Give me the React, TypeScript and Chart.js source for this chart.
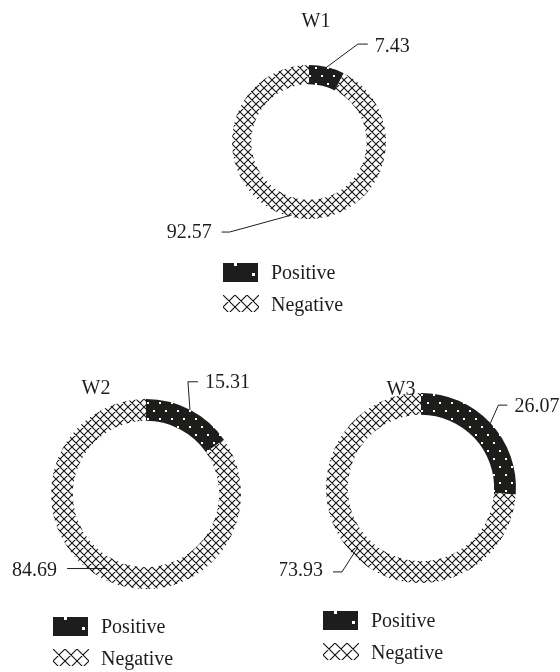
import React, { useEffect, useRef } from "react";
import { Chart, registerables } from "chart.js";

Chart.register(...registerables);

// ---- data ----
const categories = ["Positive", "Negative"];
const chartTitles = ["W1", "W2", "W3"];
const positiveValues = [7.43, 15.31, 26.07];
const negativeValues = [92.57, 84.69, 73.93];

// ---- styling / layout ----
const FONT = "20px 'Liberation Serif'";
const INK = "#1d1d1b";

type LabelCfg = { f: number; ex: number; ey: number; tick: number; by: number };
type Layout = {
  left: number; top: number; width: number; height: number;
  pad: { left: number; right: number; top: number; bottom: number };
  radius: number; cutout: string;
  title: { dx: number; dy: number };
  legend: { dx: number; dy: number };
  labels: LabelCfg[];
};

const layouts: Layout[] = [
  {
    left: 0, top: 0, width: 560, height: 335,
    pad: { left: 58, right: 0, top: 0, bottom: 51 },
    radius: 77, cutout: "75%",
    title: { dx: 7, dy: -115 },
    legend: { dx: -86, dy: 121 },
    labels: [
      { f: 1.0, ex: 31, ey: -23, tick: 10, by: 8 },
      { f: 0.9, ex: -62, ey: 17, tick: -8, by: 6 },
    ],
  },
  {
    left: 0, top: 335, width: 280, height: 337,
    pad: { left: 12, right: 0, top: 0, bottom: 19 },
    radius: 95, cutout: "77%",
    title: { dx: -50, dy: -100 },
    legend: { dx: -93, dy: 123 },
    labels: [
      { f: 1.0, ex: -2, ey: -28, tick: 10, by: 6 },
      { f: 0.5, ex: 0, ey: 0, tick: -40, by: 7 },
    ],
  },
  {
    left: 280, top: 335, width: 280, height: 337,
    pad: { left: 2, right: 0, top: 0, bottom: 31 },
    radius: 95, cutout: "77%",
    title: { dx: -20, dy: -93 },
    legend: { dx: -98, dy: 123 },
    labels: [
      { f: 1.0, ex: 8, ey: -18, tick: 9, by: 7 },
      { f: 0.6, ex: -16, ey: 25, tick: -9, by: 4 },
    ],
  },
];

function makeDots(ctx: CanvasRenderingContext2D): CanvasPattern {
  const c = document.createElement("canvas");
  c.width = 12;
  c.height = 16;
  const g = c.getContext("2d")!;
  g.fillStyle = INK;
  g.fillRect(0, 0, 12, 16);
  g.fillStyle = "#ffffff";
  g.fillRect(3, 3, 2, 2);
  g.fillRect(9, 11, 2, 2);
  return ctx.createPattern(c, "repeat")!;
}

function makeHatch(ctx: CanvasRenderingContext2D, s: number): CanvasPattern {
  const c = document.createElement("canvas");
  c.width = s;
  c.height = s;
  const g = c.getContext("2d")!;
  g.fillStyle = "#ffffff";
  g.fillRect(0, 0, s, s);
  g.strokeStyle = "#111111";
  g.lineWidth = 1.1;
  g.beginPath();
  for (const o of [-s, 0, s]) {
    g.moveTo(o, 0);
    g.lineTo(o + s, s);
    g.moveTo(o + s, 0);
    g.lineTo(o, s);
  }
  g.stroke();
  return ctx.createPattern(c, "repeat")!;
}

function DonutChart({ index }: { index: number }) {
  const ref = useRef<HTMLCanvasElement | null>(null);
  const lay = layouts[index];

  useEffect(() => {
    const canvas = ref.current!;
    const ctx = canvas.getContext("2d")!;
    const dots = makeDots(ctx);
    const hatch = makeHatch(ctx, 8);
    const hatchBig = makeHatch(ctx, 12);
    const values = [positiveValues[index], negativeValues[index]];

    const annotate = {
      id: "annotate" + index,
      afterDraw(chart: any) {
        const c: CanvasRenderingContext2D = chart.ctx;
        const arcs = chart.getDatasetMeta(0).data;
        if (!arcs.length) return;
        const cx = arcs[0].x;
        const cy = arcs[0].y;
        c.save();
        c.font = FONT;
        c.fillStyle = INK;
        c.strokeStyle = INK;
        c.lineWidth = 1;

        // title
        c.textAlign = "center";
        c.textBaseline = "alphabetic";
        c.fillText(chartTitles[index], cx + lay.title.dx, cy + lay.title.dy);

        // value labels with leader lines
        arcs.forEach((arc: any, i: number) => {
          const cfg = lay.labels[i];
          const a = (arc.startAngle + arc.endAngle) / 2;
          const r = arc.innerRadius + cfg.f * (arc.outerRadius - arc.innerRadius);
          const sx = arc.x + r * Math.cos(a);
          const sy = arc.y + r * Math.sin(a);
          const ex = sx + cfg.ex;
          const ey = sy + cfg.ey;
          const tx = ex + cfg.tick;
          c.beginPath();
          c.moveTo(sx, sy);
          c.lineTo(ex, ey);
          c.lineTo(tx, ey);
          c.stroke();
          const right = cfg.tick >= 0;
          c.textAlign = right ? "left" : "right";
          c.fillText(values[i].toFixed(2), tx + (right ? 7 : -10), ey + cfg.by);
        });

        // legend
        const lx = cx + lay.legend.dx;
        const ly = cy + lay.legend.dy;
        c.fillStyle = INK;
        c.fillRect(lx, ly, 35, 19);
        c.fillStyle = "#ffffff";
        c.fillRect(lx + 11, ly, 3, 3);
        c.fillRect(lx + 29, ly + 10, 3, 3);
        c.save();
        c.translate(lx, ly + 32);
        c.fillStyle = hatchBig;
        c.fillRect(0, 0, 36, 17);
        c.restore();
        c.fillStyle = INK;
        c.textAlign = "left";
        c.fillText(categories[0], lx + 48, ly + 16);
        c.fillText(categories[1], lx + 48, ly + 48);
        c.restore();
      },
    };

    let chart: Chart | null = null;
    let cancelled = false;
    const build = () => {
      if (cancelled) return;
      chart = new Chart(canvas, {
        type: "doughnut",
        data: {
          labels: categories,
          datasets: [
            {
              data: values,
              backgroundColor: [dots, hatch],
              borderWidth: 0,
              radius: lay.radius,
              cutout: lay.cutout,
            } as any,
          ],
        },
        options: {
          responsive: false,
          animation: false,
          devicePixelRatio: 1,
          events: [],
          layout: { padding: lay.pad },
          plugins: {
            legend: { display: false },
            title: { display: false },
            tooltip: { enabled: false },
          },
        },
        plugins: [annotate],
      });
    };
    const fonts: any = (document as any).fonts;
    if (fonts && fonts.load) {
      fonts.load(FONT, "W1 7.43 Positive Negative").then(build, build);
    } else {
      build();
    }
    return () => {
      cancelled = true;
      if (chart) chart.destroy();
    };
  }, [index]);

  return (
    <canvas
      ref={ref}
      width={lay.width}
      height={lay.height}
      style={{
        position: "absolute",
        left: lay.left,
        top: lay.top,
        width: lay.width,
        height: lay.height,
      }}
    />
  );
}

export default function App() {
  return (
    <div
      style={{
        position: "absolute",
        left: 0,
        top: 0,
        width: 560,
        height: 672,
        background: "#ffffff",
      }}
    >
      {chartTitles.map((_, i) => (
        <DonutChart key={i} index={i} />
      ))}
    </div>
  );
}
